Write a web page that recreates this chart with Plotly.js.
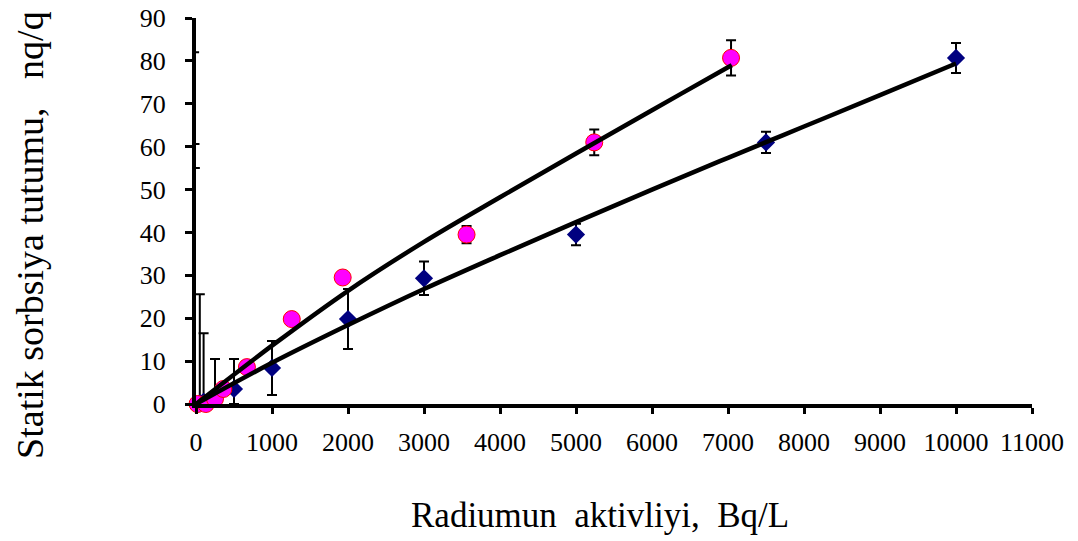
<!DOCTYPE html>
<html>
<head>
<meta charset="utf-8">
<script src="https://cdn.plot.ly/plotly-3.0.1.min.js"></script>
<style>
  html, body { margin: 0; padding: 0; background: #ffffff; }
  #chart { width: 1078px; height: 541px; }
</style>
</head>
<body>
<div id="chart"></div>
<script>
// Series 1 (navy diamonds): activity (Bq/L) vs static sorption capacity
var blueX = [-25, -20, -15, 50, 100, 250, 500, 1000, 2000, 3000, 5000, 7500, 10000];
var blueY = [0, 0, 0, 0.2, 0.5, 1.5, 3.5, 8.4, 19.8, 29.3, 39.5, 61, 80.7];
var blueErrPlus  = [82, 60.6, 55, 25.4, 16, 9, 7, 6.3, 7, 3.9, 2.5, 2.5, 3.5];
var blueErrMinus = [0, 0, 0, 0.2, 0.5, 1.5, 3.5, 6.3, 7, 3.9, 2.5, 2.5, 3.5];

// Series 2 (magenta circles)
var pinkX = [-60, 20, 130, 250, 360, 670, 1260, 1930, 3560, 5240, 7040];
var pinkY = [0, 0, 0, 1.2, 3.5, 8.6, 19.8, 29.5, 39.5, 61, 80.7];
var pinkErr = [0, 0, 0, 0, 0, 0, 0, 0, 2, 3, 4.1];

// Trend curves
var blueFitX = [0, 1000, 2000, 3000, 4000, 5000, 6000, 7000, 8000, 9000, 10000];
var blueFitY = [0, 9.6, 18.4, 26.8, 34.7, 42.4, 50.0, 57.4, 64.7, 72.0, 79.4];
var pinkFitX = [0, 1000, 2000, 3000, 4000, 5000, 6000, 7000, 7050];
var pinkFitY = [0, 13.6, 26.4, 37.8, 48.2, 58.4, 68.5, 78.5, 79];

// Axis tick values
var xTicks = [0, 1000, 2000, 3000, 4000, 5000, 6000, 7000, 8000, 9000, 10000, 11000];
var yTicks = [0, 10, 20, 30, 40, 50, 60, 70, 80, 90];

var xTitle = 'Radiumun  aktivliyi,  Bq/L';
var yTitle = 'Statik sorbsiya tutumu,   nq/q';

var FONT = '"Liberation Serif", "Times New Roman", Times, serif';

var traces = [
  {
    x: blueX, y: blueY, type: 'scatter', mode: 'markers', cliponaxis: false,
    marker: { symbol: 'diamond', size: 14, color: '#000080', line: { width: 0 } },
    error_y: { type: 'data', symmetric: false, array: blueErrPlus, arrayminus: blueErrMinus,
               color: '#000000', thickness: 2, width: 5 },
    showlegend: false, hoverinfo: 'x+y'
  },
  {
    x: pinkX, y: pinkY, type: 'scatter', mode: 'markers', cliponaxis: false,
    marker: { symbol: 'circle', size: 17, color: '#FF00FF', line: { width: 1, color: '#FF0000' } },
    error_y: { type: 'data', array: pinkErr, color: '#000000', thickness: 2, width: 5 },
    showlegend: false, hoverinfo: 'x+y'
  },
  {
    x: pinkFitX, y: pinkFitY, type: 'scatter', mode: 'lines', cliponaxis: false,
    line: { color: '#000000', width: 4.5, shape: 'spline' },
    showlegend: false, hoverinfo: 'skip'
  },
  {
    x: blueFitX, y: blueFitY, type: 'scatter', mode: 'lines', cliponaxis: false,
    line: { color: '#000000', width: 4.5, shape: 'spline' },
    showlegend: false, hoverinfo: 'skip'
  }
];

var layout = {
  width: 1078, height: 541,
  margin: { l: 196, r: 46, t: 18, b: 137 },
  paper_bgcolor: '#ffffff', plot_bgcolor: '#ffffff',
  font: { family: FONT, color: '#000000' },
  showlegend: false,
  xaxis: {
    range: [0, 11000], tickmode: 'array', tickvals: xTicks, ticktext: xTicks.map(String),
    showgrid: false, zeroline: false, showline: true, linecolor: '#000000', linewidth: 4,
    ticks: 'outside', ticklen: 6, tickwidth: 3, tickcolor: '#000000',
    ticklabelstandoff: 6,
    tickfont: { family: FONT, size: 26, color: '#000000' }
  },
  yaxis: {
    range: [0, 90], tickmode: 'array', tickvals: yTicks, ticktext: yTicks.map(String),
    showgrid: false, zeroline: false, showline: true, linecolor: '#000000', linewidth: 4,
    ticks: 'outside', ticklen: 7, tickwidth: 3, tickcolor: '#000000',
    ticklabelstandoff: 14,
    tickfont: { family: FONT, size: 26, color: '#000000' }
  },
  annotations: [
    { text: xTitle, xref: 'paper', yref: 'paper', x: 0.483, y: -0.29,
      xanchor: 'center', yanchor: 'middle', showarrow: false,
      font: { family: FONT, size: 35, color: '#000000' } },
    { text: yTitle, xref: 'paper', yref: 'paper', x: -0.1986, y: 0.438, textangle: -90,
      xanchor: 'center', yanchor: 'middle', showarrow: false,
      font: { family: FONT, size: 38, color: '#000000' } }
  ]
};

Plotly.newPlot('chart', traces, layout, { displayModeBar: false, staticPlot: true });
</script>
</body>
</html>
